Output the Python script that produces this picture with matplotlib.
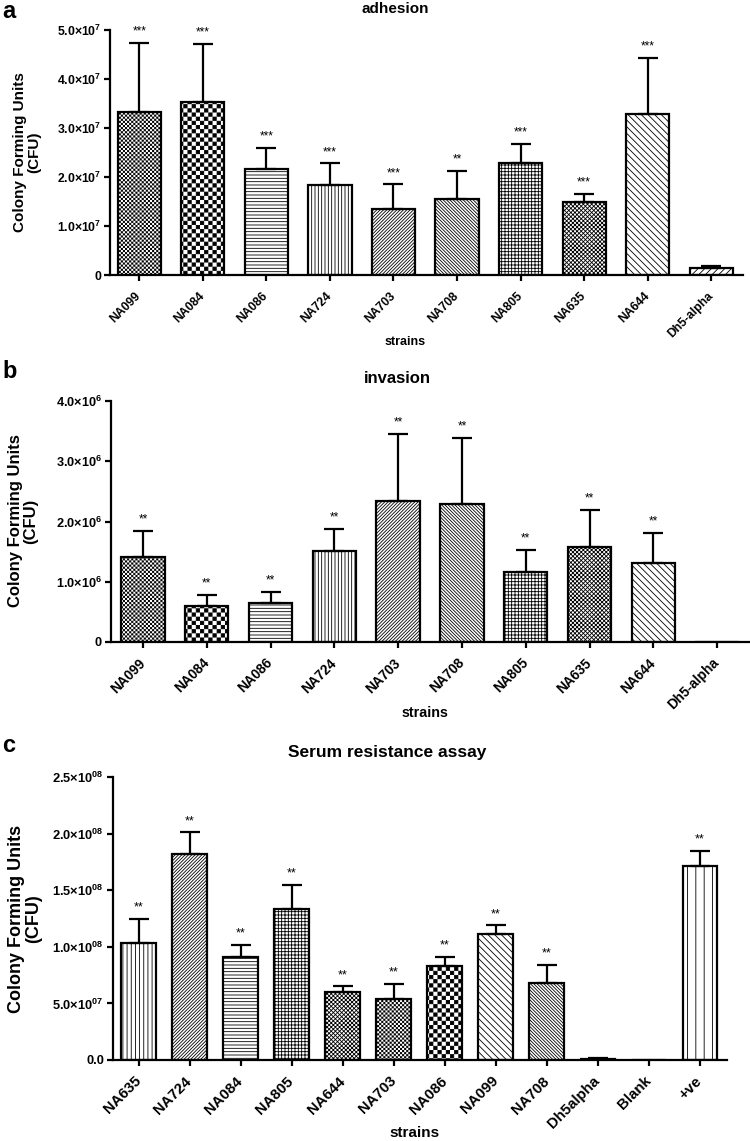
import numpy as np
import matplotlib
matplotlib.use('Agg')
import matplotlib.pyplot as plt
import matplotlib.hatch as mhatch
from matplotlib.path import Path

# ---------------- data ----------------
adh_strains = ['NA099', 'NA084', 'NA086', 'NA724', 'NA703', 'NA708', 'NA805', 'NA635', 'NA644', 'Dh5-alpha']
adh_mean = [3.33e7, 3.53e7, 2.16e7, 1.83e7, 1.35e7, 1.55e7, 2.28e7, 1.49e7, 3.28e7, 0.14e7]
adh_err = [1.40e7, 1.18e7, 0.44e7, 0.45e7, 0.50e7, 0.57e7, 0.39e7, 0.16e7, 1.15e7, 0.04e7]
adh_sig = ['***', '***', '***', '***', '***', '**', '***', '***', '***', '']
adh_yticks = [0, 1e7, 2e7, 3e7, 4e7, 5e7]
adh_yticklabels = ['0', r'$\mathbf{1.0{\times}10^{7}}$', r'$\mathbf{2.0{\times}10^{7}}$',
                   r'$\mathbf{3.0{\times}10^{7}}$', r'$\mathbf{4.0{\times}10^{7}}$', r'$\mathbf{5.0{\times}10^{7}}$']

inv_strains = ['NA099', 'NA084', 'NA086', 'NA724', 'NA703', 'NA708', 'NA805', 'NA635', 'NA644', 'Dh5-alpha']
inv_mean = [1.41e6, 0.60e6, 0.65e6, 1.51e6, 2.34e6, 2.29e6, 1.16e6, 1.58e6, 1.31e6, 0.0]
inv_err = [0.43e6, 0.18e6, 0.18e6, 0.37e6, 1.11e6, 1.10e6, 0.37e6, 0.61e6, 0.50e6, 0.0]
inv_sig = ['**', '**', '**', '**', '**', '**', '**', '**', '**', '']
inv_yticks = [0, 1e6, 2e6, 3e6, 4e6]
inv_yticklabels = ['0', r'$\mathbf{1.0{\times}10^{6}}$', r'$\mathbf{2.0{\times}10^{6}}$',
                   r'$\mathbf{3.0{\times}10^{6}}$', r'$\mathbf{4.0{\times}10^{6}}$']

ser_strains = ['NA635', 'NA724', 'NA084', 'NA805', 'NA644', 'NA703', 'NA086', 'NA099', 'NA708', 'Dh5alpha', 'Blank', '+ve']
ser_mean = [1.03e8, 1.82e8, 0.91e8, 1.33e8, 0.60e8, 0.54e8, 0.83e8, 1.11e8, 0.68e8, 0.01e8, 0.0, 1.71e8]
ser_err = [0.22e8, 0.19e8, 0.11e8, 0.22e8, 0.05e8, 0.13e8, 0.08e8, 0.08e8, 0.16e8, 0.01e8, 0.0, 0.14e8]
ser_sig = ['**', '**', '**', '**', '**', '**', '**', '**', '**', '', '', '**']
ser_yticks = [0, 0.5e8, 1.0e8, 1.5e8, 2.0e8, 2.5e8]
ser_yticklabels = ['0.0', r'$\mathbf{5.0{\times}10^{07}}$', r'$\mathbf{1.0{\times}10^{08}}$',
                   r'$\mathbf{1.5{\times}10^{08}}$', r'$\mathbf{2.0{\times}10^{08}}$', r'$\mathbf{2.5{\times}10^{08}}$']

# ---------------- custom checkerboard hatch (uses '*') ----------------
HATCH_LW = 0.6
SHRINK = HATCH_LW * 100 / 72 / 2 / 100


class CheckerHatch(mhatch.HatchPatternBase):
    def __init__(self, hatch, density):
        n = int(hatch.count('*') * density)
        self.n = n - (n % 2)
        self.num_vertices = (self.n * self.n // 2) * 5

    def set_vertices_and_codes(self, vertices, codes):
        n = self.n
        c = 1.0 / n
        s = SHRINK
        k = 0
        for i in range(n):
            for j in range(n):
                if (i + j) % 2:
                    continue
                x0, x1 = j * c + s, (j + 1) * c - s
                y0, y1 = i * c + s, (i + 1) * c - s
                vertices[k:k + 5] = [(x0, y0), (x1, y0), (x1, y1), (x0, y1), (x0, y0)]
                codes[k:k + 5] = [Path.MOVETO, Path.LINETO, Path.LINETO, Path.LINETO, Path.CLOSEPOLY]
                k += 5


mhatch._hatch_types[:] = [t for t in mhatch._hatch_types if t.__name__ != 'Stars'] + [CheckerHatch]

plt.rcParams['font.family'] = ['Liberation Sans', 'DejaVu Sans']
plt.rcParams['font.weight'] = 'bold'
plt.rcParams['mathtext.fontset'] = 'custom'
plt.rcParams['mathtext.bf'] = 'Liberation Sans:bold'
plt.rcParams['mathtext.rm'] = 'Liberation Sans:bold'
plt.rcParams['hatch.linewidth'] = HATCH_LW

W, H = 750, 1141
fig = plt.figure(figsize=(W / 100, H / 100), dpi=100)


def rect(l, t, r, b):
    return [l / W, 1 - b / H, (r - l) / W, (b - t) / H]


def ftext(x, y, s, **kw):
    fig.text(x / W, 1 - y / H, s, **kw)


# hatch styles
FINE = '*' * 8          # fine grey checker
CHECK = '*' * 4         # coarse checker
HORIZ = '-' * 5
VERT = '|' * 5
NE_DENSE = '/' * 10
SE_DENSE = '\\' * 10
GRID = '+' * 5
XDENSE = 'x' * 8
SE_SPARSE = '\\' * 5
NE_SPARSE = '/' * 5


def panel(r, strains, mean, err, sig, hatches, yticks, yticklabels, xlim,
          tick_fs, xtick_fs, capsize, star_fs):
    ax = fig.add_axes(r)
    x = np.arange(len(strains))
    bars = ax.bar(x, mean, width=0.68, color='white', edgecolor='black', linewidth=1.6, zorder=2)
    for b, h in zip(bars, hatches):
        if h:
            b.set_hatch(h)
    mean = np.asarray(mean)
    err = np.asarray(err)
    m = mean > 0
    ax.errorbar(x[m], mean[m], yerr=[np.zeros(m.sum()), err[m]], fmt='none', ecolor='black',
                elinewidth=1.6, capsize=capsize, capthick=1.6, zorder=3)
    for xi, mi, ei, s in zip(x, mean, err, sig):
        if s:
            ax.annotate(s, (xi, mi + ei), xytext=(0, 6), textcoords='offset points',
                        ha='center', va='baseline', fontsize=star_fs, fontweight='normal')
    ax.set_xlim(*xlim)
    ax.set_ylim(yticks[0], yticks[-1])
    ax.set_yticks(yticks)
    ax.set_yticklabels(yticklabels, fontsize=tick_fs, fontweight='bold')
    ax.set_xticks(x)
    ax.set_xticklabels(strains, rotation=45, ha='right', va='center', rotation_mode='anchor',
                       fontsize=xtick_fs, fontweight='bold')
    for sp in ['top', 'right']:
        ax.spines[sp].set_visible(False)
    for sp in ['left', 'bottom']:
        ax.spines[sp].set_linewidth(1.6)
    ax.tick_params(axis='both', direction='out', length=4.5, width=1.6)
    ax.tick_params(axis='x', pad=9)
    ax.tick_params(axis='y', pad=2)
    return ax


ab_hatches = [FINE, CHECK, HORIZ, VERT, NE_DENSE, SE_DENSE, GRID, XDENSE, SE_SPARSE, NE_SPARSE]

# panel a
panel(rect(110, 30, 743, 275), adh_strains, adh_mean, adh_err, adh_sig, ab_hatches,
      adh_yticks, adh_yticklabels, (-0.46, 9.5), 8.8, 8.7, 7.5, 8.5)
ftext(2, 0, 'a', fontsize=17, fontweight='bold', va='top')
ftext(395, 13, 'adhesion', fontsize=11, fontweight='bold', ha='center', va='baseline')
ftext(27, 152, 'Colony Forming Units\n(CFU)', fontsize=11, fontweight='bold', ha='center', va='center',
      rotation=90, linespacing=1.0)
ftext(405, 342, 'strains', fontsize=9, fontweight='bold', ha='center', va='center')

# panel b
panel(rect(111, 401, 749, 642), inv_strains, inv_mean, inv_err, inv_sig, ab_hatches,
      inv_yticks, inv_yticklabels, (-0.5, 9.5), 9.2, 9.8, 7, 8.5)
ftext(2, 360, 'b', fontsize=17, fontweight='bold', va='top')
ftext(397, 383, 'invasion', fontsize=12, fontweight='bold', ha='center', va='baseline')
ftext(23, 521, 'Colony Forming Units\n(CFU)', fontsize=12, fontweight='bold', ha='center', va='center',
      rotation=90, linespacing=1.0)
ftext(425, 713, 'strains', fontsize=10.3, fontweight='bold', ha='center', va='center')

# panel c
c_hatches = ['|' * 4, NE_DENSE, HORIZ, GRID, XDENSE, FINE, CHECK, SE_SPARSE, SE_DENSE, NE_SPARSE, '', '||']
panel(rect(113, 777, 727, 1060), ser_strains, ser_mean, ser_err, ser_sig, c_hatches,
      ser_yticks, ser_yticklabels, (-0.5, 11.53), 9.3, 10.8, 7, 9)
ftext(2, 734, 'c', fontsize=17, fontweight='bold', va='top')
ftext(387, 757, 'Serum resistance assay', fontsize=12.5, fontweight='bold', ha='center', va='baseline')
ftext(25, 919, 'Colony Forming Units\n(CFU)', fontsize=13, fontweight='bold', ha='center', va='center',
      rotation=90, linespacing=1.0)
ftext(415, 1133, 'strains', fontsize=11, fontweight='bold', ha='center', va='center')

fig.savefig('out.png', dpi=100)
